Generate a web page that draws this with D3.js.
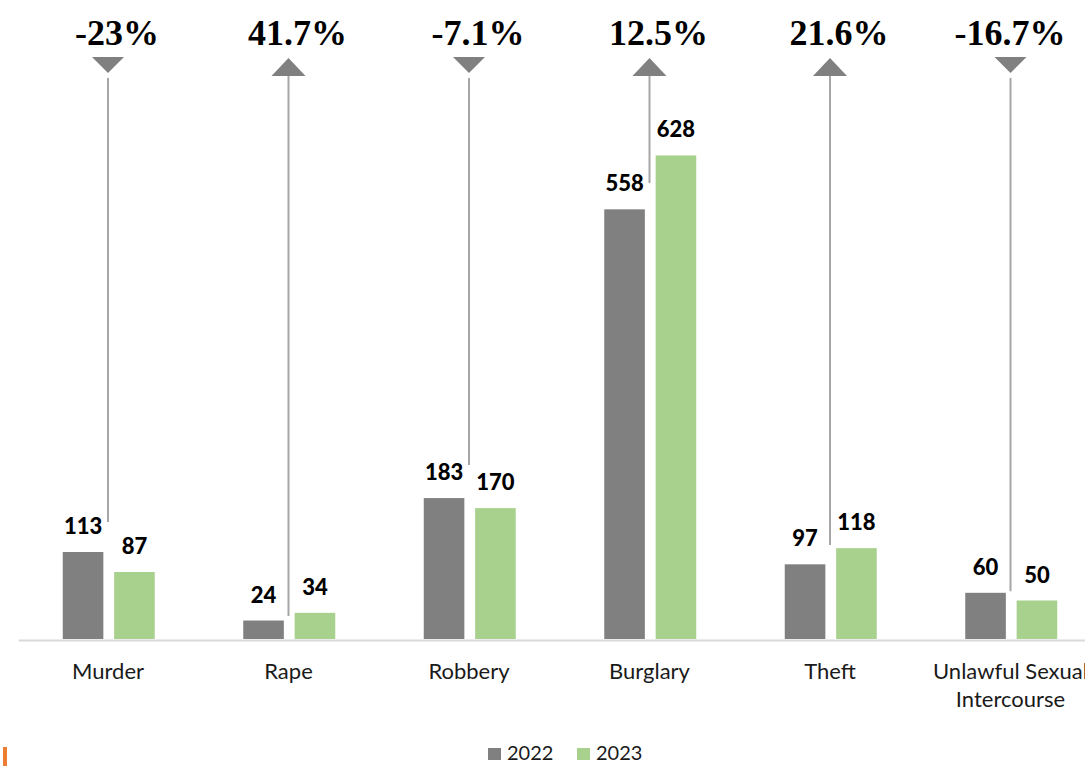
<!DOCTYPE html>
<html>
<head>
<meta charset="utf-8">
<script src="https://cdn.jsdelivr.net/npm/d3@7"></script>
<style>
    body { margin: 0; background: #fff; }
    svg { display: block; }
</style>
</head>
<body>
<div id="chart"></div>
<script>
// data
const categories = ['Murder', 'Rape', 'Robbery', 'Burglary', 'Theft', 'Unlawful Sexual Intercourse'];
const years = ['2022', '2023'];
const values2022 = [113, 24, 183, 558, 97, 60];
const values2023 = [87, 34, 170, 628, 118, 50];
const changeLabels = ['-23%', '41.7%', '-7.1%', '12.5%', '21.6%', '-16.7%'];
const changeValues = [-23, 41.7, -7.1, 12.5, 21.6, -16.7];
// where each connector line stops, in chart units
const connectorEnds = [152, 30, 226, 592, 122, 62];

const width = 1085, height = 766,
    baseY = 639,
    colors = d3.scaleOrdinal().domain(years).range(['#808080', '#a9d18e']);

const svg = d3.select('#chart')
    .append('svg')
    .attr('width', width)
    .attr('height', height);

const x0 = d3.scaleBand()
        .domain(categories)
        .range([18.75, 1101.75]),
    x1 = d3.scaleBand()
        .domain(years)
        .range([44, 136])
        .paddingInner(0.21),
    y = d3.scaleLinear()
        .domain([0, 700])
        .range([baseY, 100]);

const rows = categories.map((c, i) => ({
    category: c,
    values: [values2022[i], values2023[i]],
    change: changeValues[i],
    label: changeLabels[i],
    end: connectorEnds[i]
}));

// axis line
svg.append('line')
    .attr('x1', x0.range()[0])
    .attr('x2', x0.range()[1])
    .attr('y1', baseY + 1.5)
    .attr('y2', baseY + 1.5)
    .attr('stroke', '#d9d9d9')
    .attr('stroke-width', 2);

// bars
const groups = svg.append('g')
    .selectAll('g')
    .data(rows)
    .enter()
    .append('g')
    .attr('transform', d => `translate(${x0(d.category)}, 0)`);

groups.selectAll('rect')
    .data(d => d.values.map((v, i) => ({ year: years[i], value: v })))
    .enter()
    .append('rect')
    .attr('x', d => x1(d.year))
    .attr('y', d => y(d.value))
    .attr('width', x1.bandwidth())
    .attr('height', d => baseY - y(d.value))
    .attr('fill', d => colors(d.year));

groups.selectAll('text.value')
    .data(d => d.values.map((v, i) => ({ year: years[i], value: v })))
    .enter()
    .append('text')
    .attr('class', 'value')
    .attr('x', d => x1(d.year) + x1.bandwidth() / 2)
    .attr('y', d => y(d.value) - 18)
    .attr('text-anchor', 'middle')
    .style('font-family', 'Lato, sans-serif')
    .style('font-weight', '900')
    .style('font-size', '22px')
    .style('fill', '#000')
    .text(d => d.value);

// connector lines, arrows and change labels
const mid = d => x0(d.category) + x0.bandwidth() / 2 - 1;

groups.append('line')
    .attr('x1', d => mid(d) - x0(d.category))
    .attr('x2', d => mid(d) - x0(d.category))
    .attr('y1', d => d.change < 0 ? 78 : 76)
    .attr('y2', d => y(d.end))
    .attr('stroke', '#a6a6a6')
    .attr('stroke-width', 2);

groups.append('path')
    .attr('d', d => {
        const cx = mid(d) - x0(d.category);
        return d.change < 0
            ? `M${cx - 16},57 L${cx + 16},57 L${cx},73 Z`
            : `M${cx},58 L${cx + 17},76 L${cx - 17},76 Z`;
    })
    .attr('fill', '#808080');

groups.append('text')
    .attr('x', d => Math.min(mid(d) + 9, 1010) - x0(d.category))
    .attr('y', 45)
    .attr('text-anchor', 'middle')
    .style('font-family', '"Liberation Serif", "Times New Roman", serif')
    .style('font-weight', 'bold')
    .style('font-size', '36px')
    .style('fill', '#000')
    .text(d => d.label);

// category labels (wrapped like the original)
const catText = groups.append('text')
    .attr('text-anchor', 'middle')
    .style('font-family', 'Lato, sans-serif')
    .style('font-size', '22px')
    .style('fill', '#1a1a1a');

catText.each(function(d) {
    const words = d.category.split(' '),
        lines = words.length > 2 ? [words.slice(0, 2).join(' '), words.slice(2).join(' ')] : [d.category],
        cx = x0.bandwidth() / 2 - 1;
    d3.select(this).selectAll('tspan')
        .data(lines)
        .enter()
        .append('tspan')
        .attr('x', cx)
        .attr('y', (l, i) => 679 + i * 28)
        .text(l => l);
});

// legend
const legend = svg.append('g')
    .selectAll('g')
    .data(years)
    .enter()
    .append('g')
    .attr('transform', (d, i) => `translate(${488 + i * 89}, 0)`);

legend.append('rect')
    .attr('x', 0)
    .attr('y', 748)
    .attr('width', 13)
    .attr('height', 12)
    .attr('fill', d => colors(d));

legend.append('text')
    .attr('x', 19)
    .attr('y', 760)
    .style('font-family', 'Lato, sans-serif')
    .style('font-size', '20px')
    .style('fill', '#1a1a1a')
    .text(d => d);

// small orange mark at bottom left
svg.append('rect')
    .attr('x', 3)
    .attr('y', 747)
    .attr('width', 4)
    .attr('height', 19)
    .attr('fill', '#ed7d31');
</script>
</body>
</html>
